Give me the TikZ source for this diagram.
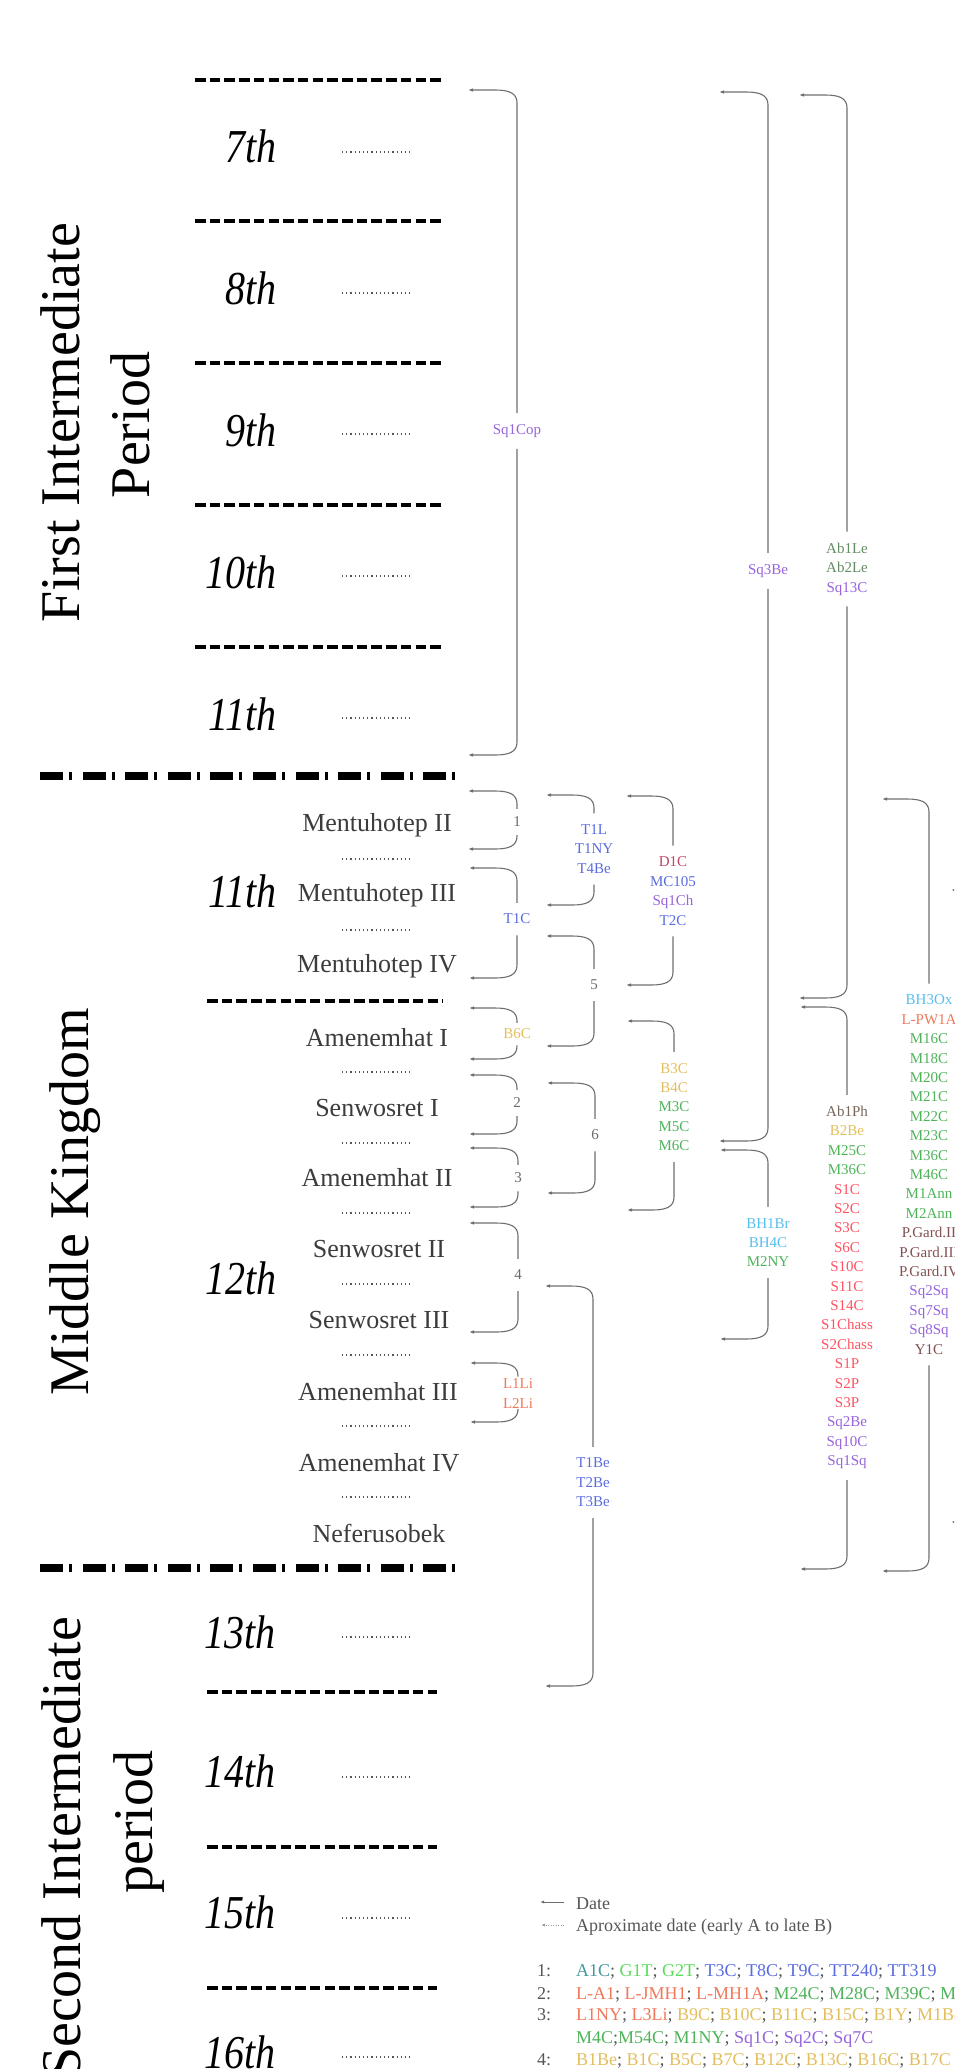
\documentclass[tikz,border=0pt]{standalone}
\usepackage{fontspec}
\setmainfont{Liberation Serif}
\usetikzlibrary{arrows.meta,calc}
\definecolor{linegray}{HTML}{6E6E6E}
\definecolor{namegray}{HTML}{3C3C3C}
\definecolor{numgray}{HTML}{6A6A6A}
\definecolor{dotgray}{HTML}{555555}
\definecolor{leggray}{HTML}{555555}
\definecolor{cT}{HTML}{5A6BE0}
\definecolor{cSq}{HTML}{9664DC}
\definecolor{cB}{HTML}{E3BE5E}
\definecolor{cM}{HTML}{4FB35A}
\definecolor{cS}{HTML}{FF5262}
\definecolor{cL}{HTML}{F0785A}
\definecolor{cBH}{HTML}{55BEF0}
\definecolor{cD}{HTML}{BE4664}
\definecolor{cAb}{HTML}{648C64}
\definecolor{cAbP}{HTML}{786458}
\definecolor{cP}{HTML}{825050}
\definecolor{cA}{HTML}{46969F}
\definecolor{cG}{HTML}{5ADC5A}
\tikzset{
  brkline/.style={draw=linegray, line width=1.1pt, -{Latex[length=5pt,width=3.6pt]}},
  lab/.style={font=\fontsize{15}{19.4}\selectfont, align=center, inner xsep=2pt, inner ysep=11pt},
  dyn/.style={font=\fontsize{40}{40}\selectfont\itshape, anchor=base east, inner sep=0pt},
  king/.style={font=\fontsize{26}{26}\selectfont, text=namegray, anchor=base, inner sep=0pt},
  era/.style={font=\fontsize{56}{56}\selectfont, rotate=90, anchor=base, inner sep=0pt},
  thickdash/.style={line width=4.5pt, dash pattern=on 10.5pt off 4.2pt},
  dashdot/.style={line width=8pt, dash pattern=on 23pt off 6pt on 3pt off 10.6pt},
  dotsep/.style={draw=dotgray, line width=1.3pt, dash pattern=on 1.2pt off 3pt},
  legtext/.style={font=\fontsize{18}{18}\selectfont, anchor=base west, text=leggray, inner sep=0pt},
}
\newcommand{\brkUp}[2]{\draw[brkline] (#1) -- ($(#1 |- #2)+(0,13)$) .. controls ($(#1 |- #2)+(0,3)$) and ($(#1 |- #2)+(-8,0)$) .. ($(#1 |- #2)+(-22,0)$) -- (#2);}
\newcommand{\brkDn}[2]{\draw[brkline] (#1) -- ($(#1 |- #2)+(0,-13)$) .. controls ($(#1 |- #2)+(0,-3)$) and ($(#1 |- #2)+(-8,0)$) .. ($(#1 |- #2)+(-22,0)$) -- (#2);}
\newcommand{\bracketlab}[8]{%
  \node[lab,#2] (#1) at (#3,#4) {#8};
  \coordinate (#1-top) at (#5,#6);
  \coordinate (#1-bot) at (#5,#7);
  \brkUp{#1.north}{#1-top}
  \brkDn{#1.south}{#1-bot}}
\newcommand{\cc}[2]{\textcolor{#1}{#2}}
\begin{document}
\begin{tikzpicture}[x=1pt,y=-1pt]
\useasboundingbox (0,0) rectangle (954,2069);
\clip (0,0) rectangle (954,2069);

% era labels
\node[era] (fipA) at (79,423) {First Intermediate};
\node[era] (fipB) at (149,425) {Period};
\node[era] (mk) at (88,1202) {Middle Kingdom};
\node[era] (sipA) at (80,1848) {Second Intermediate};
\node[era] (sipB) at (152,1822) {period};

% separators
\foreach \yy in {80,221,363,505,647} \draw[thickdash] (195,\yy) -- (444,\yy);
\draw[thickdash] (207,1001) -- (443,1001);
\foreach \yy in {1692,1847,1988} \draw[thickdash] (207,\yy) -- (437,\yy);
\draw[dashdot] (40,776) -- (456.4,776);
\draw[dashdot] (40,1568) -- (456.4,1568);

% dynasties
\node[dyn] (d7) at (277,162) {\scalebox{1}[1.18]{7th}};
\node[dyn] (d8) at (277,304) {\scalebox{1}[1.18]{8th}};
\node[dyn] (d9) at (277,446) {\scalebox{1}[1.18]{9th}};
\node[dyn] (d10) at (277,588) {\scalebox{1}[1.18]{10th}};
\node[dyn] (d11a) at (277,730) {\scalebox{1}[1.18]{11th}};
\node[dyn] (d11b) at (277,907) {\scalebox{1}[1.18]{11th}};
\node[dyn] (d12) at (277,1294) {\scalebox{1}[1.18]{12th}};
\node[dyn] (d13) at (276,1648) {\scalebox{1}[1.18]{13th}};
\node[dyn] (d14) at (276,1787) {\scalebox{1}[1.18]{14th}};
\node[dyn] (d15) at (276,1928) {\scalebox{1}[1.18]{15th}};
\node[dyn] (d16) at (276,2068) {\scalebox{1}[1.18]{16th}};
\foreach \yy in {152,293,434,576,718,1637,1777,1918,2057} \draw[dotsep] (342,\yy) -- (410,\yy);

% kings
\node[king] (k1) at (377,831) {Mentuhotep II};
\node[king] (k2) at (377,901) {Mentuhotep III};
\node[king] (k3) at (377,972) {Mentuhotep IV};
\node[king] (k4) at (377,1046) {Amenemhat I};
\node[king] (k5) at (377,1116) {Senwosret I};
\node[king] (k6) at (377,1186) {Amenemhat II};
\node[king] (k7) at (379,1257) {Senwosret II};
\node[king] (k8) at (379,1328) {Senwosret III};
\node[king] (k9) at (378,1400) {Amenemhat III};
\node[king] (k10) at (379,1471) {Amenemhat IV};
\node[king] (k11) at (379,1542) {Neferusobek};
\foreach \yy in {859,930,1072,1143,1213,1284,1355,1426,1497} \draw[dotsep] (342,\yy) -- (410,\yy);

% brackets column A
\bracketlab{bSqCop}{}{517}{431}{468}{90}{755}{\cc{cSq}{Sq1Cop}}
\bracketlab{bOne}{text=numgray,inner ysep=8pt}{517}{822}{468}{791}{849}{1}
\bracketlab{bTC}{}{517}{919}{469}{868}{978}{\cc{cT}{T1C}}
\bracketlab{bBsix}{inner ysep=6pt}{517}{1034}{469}{1008}{1059}{\cc{cB}{B6C}}
\bracketlab{bTwo}{text=numgray,inner ysep=8pt}{517}{1103}{469}{1075}{1134}{2}
\bracketlab{bThree}{text=numgray,inner ysep=8pt}{518}{1178}{469}{1148}{1207}{3}
\bracketlab{bFour}{text=numgray}{518}{1275}{469}{1223}{1332}{4}
\bracketlab{bLLi}{inner ysep=2pt}{518}{1393.5}{470}{1363}{1422}{\cc{cL}{L1Li}\\\cc{cL}{L2Li}}

% column B
\bracketlab{bTL}{}{594}{849}{546}{795}{905}{\cc{cT}{T1L}\\\cc{cT}{T1NY}\\\cc{cT}{T4Be}}
\bracketlab{bFive}{text=numgray}{594}{985}{546}{936}{1046}{5}
\bracketlab{bSix}{text=numgray}{595}{1135}{547}{1083}{1193}{6}
\bracketlab{bTBe}{}{593}{1482.5}{545}{1286}{1686}{\cc{cT}{T1Be}\\\cc{cT}{T2Be}\\\cc{cT}{T3Be}}

% column C
\bracketlab{bDC}{}{673}{891}{626}{796}{985}{\cc{cD}{D1C}\\\cc{cT}{MC105}\\\cc{cSq}{Sq1Ch}\\\cc{cT}{T2C}}
\bracketlab{bBC}{}{674}{1107}{627}{1021}{1210}{\cc{cB}{B3C}\\\cc{cB}{B4C}\\\cc{cM}{M3C}\\\cc{cM}{M5C}\\\cc{cM}{M6C}}

% column D
\bracketlab{bSqBe}{}{768}{571}{719}{92}{1141}{\cc{cSq}{Sq3Be}}
\bracketlab{bBHBr}{}{768}{1242.5}{720}{1150}{1339}{\cc{cBH}{BH1Br}\\\cc{cBH}{BH4C}\\\cc{cM}{M2NY}}

% column E
\bracketlab{bAbLe}{}{847}{569}{799}{95}{998}{\cc{cAb}{Ab1Le}\\\cc{cAb}{Ab2Le}\\\cc{cSq}{Sq13C}}
\bracketlab{bAbPh}{}{847}{1287.5}{800}{1007}{1569}{\cc{cAbP}{Ab1Ph}\\\cc{cB}{B2Be}\\\cc{cM}{M25C}\\\cc{cM}{M36C}\\\cc{cS}{S1C}\\\cc{cS}{S2C}\\\cc{cS}{S3C}\\\cc{cS}{S6C}\\\cc{cS}{S10C}\\\cc{cS}{S11C}\\\cc{cS}{S14C}\\\cc{cS}{S1Chass}\\\cc{cS}{S2Chass}\\\cc{cS}{S1P}\\\cc{cS}{S2P}\\\cc{cS}{S3P}\\\cc{cSq}{Sq2Be}\\\cc{cSq}{Sq10C}\\\cc{cSq}{Sq1Sq}}

% column F
\bracketlab{bBHOx}{}{929}{1174.5}{882}{799}{1571}{\cc{cBH}{BH3Ox}\\\cc{cL}{L-PW1A}\\\cc{cM}{M16C}\\\cc{cM}{M18C}\\\cc{cM}{M20C}\\\cc{cM}{M21C}\\\cc{cM}{M22C}\\\cc{cM}{M23C}\\\cc{cM}{M36C}\\\cc{cM}{M46C}\\\cc{cM}{M1Ann}\\\cc{cM}{M2Ann}\\\cc{cP}{P.Gard.II}\\\cc{cP}{P.Gard.III}\\\cc{cP}{P.Gard.IV}\\\cc{cSq}{Sq2Sq}\\\cc{cSq}{Sq7Sq}\\\cc{cSq}{Sq8Sq}\\\cc{cP}{Y1C}}

% column G (cut off at the right edge)
\coordinate (gTs) at (1000,890); \coordinate (gT) at (951,890);
\coordinate (gBs) at (1000,1522); \coordinate (gB) at (951,1522);
\draw[brkline] (gTs) -- (gT);
\draw[brkline] (gBs) -- (gB);

% legend
\coordinate (lgA1) at (564,1902); \coordinate (lgA2) at (540,1902);
\draw[draw=linegray, line width=0.9pt, -{Latex[length=4pt,width=3pt]}] (lgA1) -- (lgA2);
\coordinate (lgB1) at (564,1925); \coordinate (lgB2) at (541,1925);
\draw[draw=linegray!70, line width=0.9pt, dash pattern=on 1pt off 1.5pt, -{Latex[length=4pt,width=3pt]}] (lgB1) -- (lgB2);
\node[legtext] (lgDate) at (576,1909) {Date};
\node[legtext] (lgApprox) at (576,1931) {Aproximate date (early A to late B)};

\node[legtext] (n1) at (537,1976) {1:};
\node[legtext] (n2) at (537,1999) {2:};
\node[legtext] (n3) at (537,2020) {3:};
\node[legtext] (n4) at (537,2065) {4:};
\node[legtext] (l1) at (576,1976) {\cc{cA}{A1C}; \cc{cG}{G1T}; \cc{cG}{G2T}; \cc{cT}{T3C}; \cc{cT}{T8C}; \cc{cT}{T9C}; \cc{cT}{TT240}; \cc{cT}{TT319}};
\node[legtext] (l2) at (576,1999) {\cc{cL}{L-A1}; \cc{cL}{L-JMH1}; \cc{cL}{L-MH1A}; \cc{cM}{M24C}; \cc{cM}{M28C}; \cc{cM}{M39C}; \cc{cM}{M}};
\node[legtext] (l3) at (576,2020) {\cc{cL}{L1NY}; \cc{cL}{L3Li}; \cc{cB}{B9C}; \cc{cB}{B10C}; \cc{cB}{B11C}; \cc{cB}{B15C}; \cc{cB}{B1Y}; \cc{cB}{M1Be}};
\node[legtext] (l3b) at (576,2043) {\cc{cM}{M4C};\cc{cM}{M54C}; \cc{cM}{M1NY}; \cc{cSq}{Sq1C}; \cc{cSq}{Sq2C}; \cc{cSq}{Sq7C}};
\node[legtext] (l4) at (576,2065) {\cc{cB}{B1Be}; \cc{cB}{B1C}; \cc{cB}{B5C}; \cc{cB}{B7C}; \cc{cB}{B12C}; \cc{cB}{B13C}; \cc{cB}{B16C}; \cc{cB}{B17C}};
\end{tikzpicture}
\end{document}
